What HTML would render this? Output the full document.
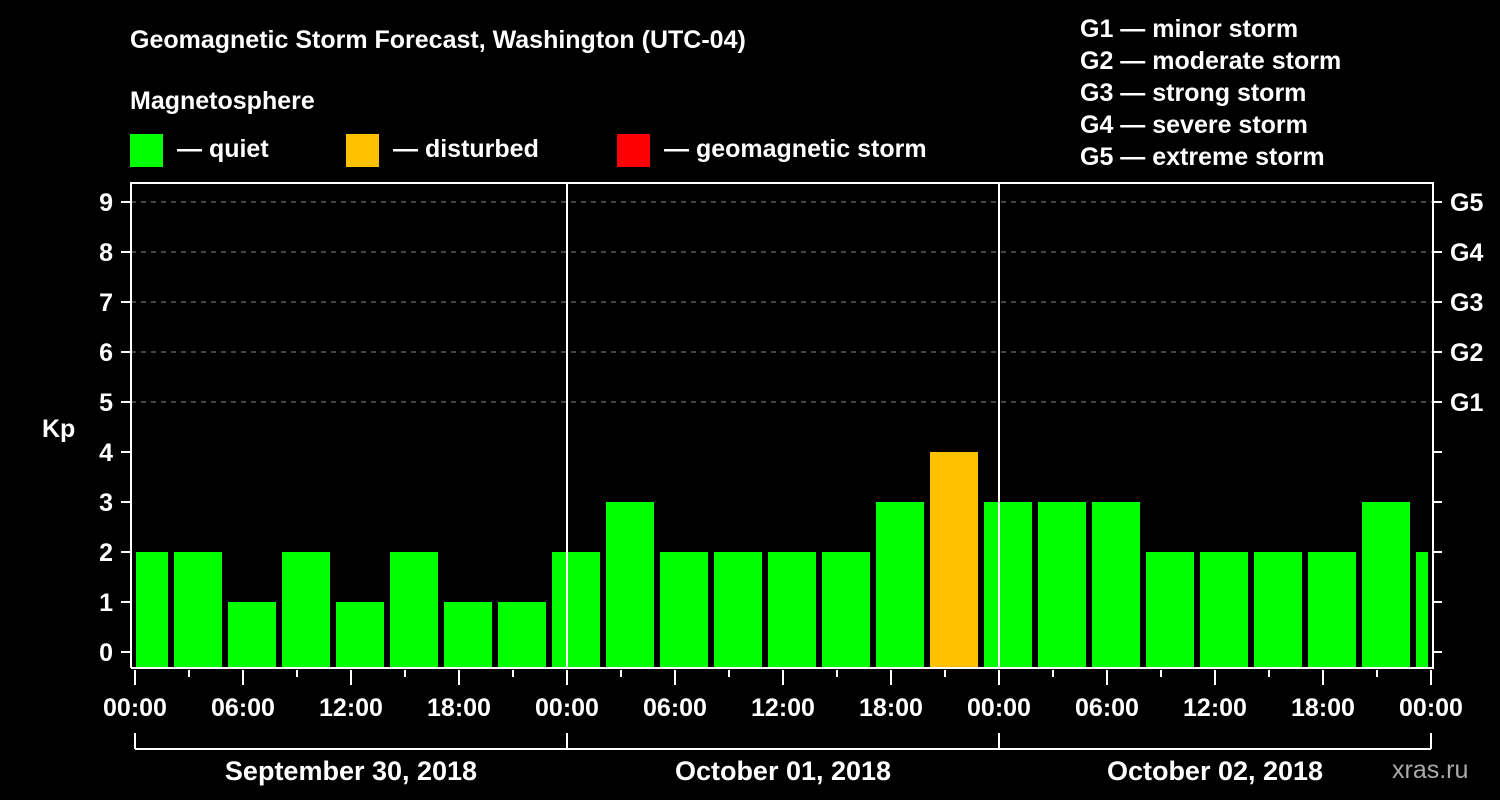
<!DOCTYPE html>
<html><head><meta charset="utf-8"><style>
html,body{margin:0;padding:0;background:#000;}
svg{display:block;font-family:"Liberation Sans",sans-serif;font-weight:bold;}
</style></head><body>
<svg id="chart" width="1500" height="800" viewBox="0 0 1500 800">
<rect width="1500" height="800" fill="#000"/>
<text x="130" y="48" fill="#fff" font-size="25">Geomagnetic Storm Forecast, Washington (UTC-04)</text>
<text x="130" y="109" fill="#fff" font-size="25">Magnetosphere</text>
<g><rect x="130" y="134" width="33" height="33" fill="#00ff00"/><text x="177" y="157" fill="#fff" font-size="25">— quiet</text></g>
<g><rect x="346" y="134" width="33" height="33" fill="#ffc000"/><text x="393" y="157" fill="#fff" font-size="25">— disturbed</text></g>
<g><rect x="617" y="134" width="33" height="33" fill="#ff0000"/><text x="664" y="157" fill="#fff" font-size="25">— geomagnetic storm</text></g>
<g fill="#fff" font-size="25">
<text x="1080" y="37">G1 — minor storm</text><text x="1080" y="69">G2 — moderate storm</text><text x="1080" y="101">G3 — strong storm</text><text x="1080" y="133">G4 — severe storm</text><text x="1080" y="165">G5 — extreme storm</text></g>
<text x="42" y="437" fill="#fff" font-size="25">Kp</text>
<text x="1392" y="778" fill="#aaa" font-size="25" font-weight="normal">xras.ru</text>
<g id="grid"></g><g id="bars"></g><g id="axes"></g>
</svg>
<script>
const kpValues=[2,2,1,2,1,2,1,1,2,3,2,2,2,2,3,4,3,3,3,2,2,2,2,3,2];
const yTicks=[0,1,2,3,4,5,6,7,8,9];
const gLabels=["G1","G2","G3","G4","G5"];
const xTickLabels=["00:00","06:00","12:00","18:00","00:00","06:00","12:00","18:00","00:00","06:00","12:00","18:00","00:00"];
const dayLabels=["September 30, 2018","October 01, 2018","October 02, 2018"];
const startHour=-1, barHours=3, totalHours=72;
const NS="http://www.w3.org/2000/svg";
const X0=135,X1=1431,PL=131,PR=1433,PT=183,PB=668;
const xs=h=>X0+(X1-X0)*h/totalHours;
const ys=v=>652-50*v;
function mk(parent,tag,attrs,text){const e=document.createElementNS(NS,tag);for(const k in attrs)e.setAttribute(k,attrs[k]);if(text!==undefined)e.textContent=text;document.getElementById(parent).appendChild(e);return e;}
// grid
for(let v=5;v<=9;v++){const l=mk('grid','line',{x1:PL,x2:PR,y1:ys(v),y2:ys(v),stroke:'#888','stroke-dasharray':'5,5','stroke-width':1});

}
// bars
kpValues.forEach((v,i)=>{let a=xs(startHour+i*barHours)+3,b=xs(startHour+(i+1)*barHours)-3;a=Math.max(a,X0+1);b=Math.min(b,X1-3);
const r=mk('bars','rect',{x:a,y:ys(v),width:b-a,height:PB-ys(v),fill:v>=5?'#ff0000':(v>=4?'#ffc000':'#00ff00')});

});
// frame
const f=mk('axes','path',{d:`M${PL} ${PB}V${PT}H${PR}V${PB}H${PL}`,fill:'none',stroke:'#fff','stroke-width':2});


[24,48].forEach(h=>{const l=mk('axes','line',{x1:xs(h),x2:xs(h),y1:PT,y2:PB,stroke:'#fff','stroke-width':2});

});
yTicks.forEach(v=>{mk('axes','line',{x1:121,x2:PL,y1:ys(v),y2:ys(v),stroke:'#fff','stroke-width':2});
mk('axes','line',{x1:PR,x2:1442,y1:ys(v),y2:ys(v),stroke:'#fff','stroke-width':2});
const t=mk('axes','text',{x:113,y:ys(v)+9,fill:'#fff','font-size':25,'text-anchor':'end'},v);

});
gLabels.forEach((g,i)=>{const t=mk('axes','text',{x:1450,y:ys(5+i)+9,fill:'#fff','font-size':25},g);

});
for(let h=0;h<=totalHours;h+=3){const major=h%6===0;mk('axes','line',{x1:xs(h),x2:xs(h),y1:PB+2,y2:major?685:677,stroke:'#fff','stroke-width':2});}
xTickLabels.forEach((s,i)=>{const t=mk('axes','text',{x:xs(i*6),y:716,fill:'#fff','font-size':25,'text-anchor':'middle'},s);

});
const br=mk('axes','line',{x1:X0,x2:X1,y1:749,y2:749,stroke:'#fff','stroke-width':2});


for(let d=0;d<=3;d++)mk('axes','line',{x1:xs(d*24),x2:xs(d*24),y1:733,y2:749,stroke:'#fff','stroke-width':2});
dayLabels.forEach((s,i)=>{const t=mk('axes','text',{x:xs(i*24+12),y:780,fill:'#fff','font-size':27,'text-anchor':'middle'},s);

});
</script>
</body></html>
